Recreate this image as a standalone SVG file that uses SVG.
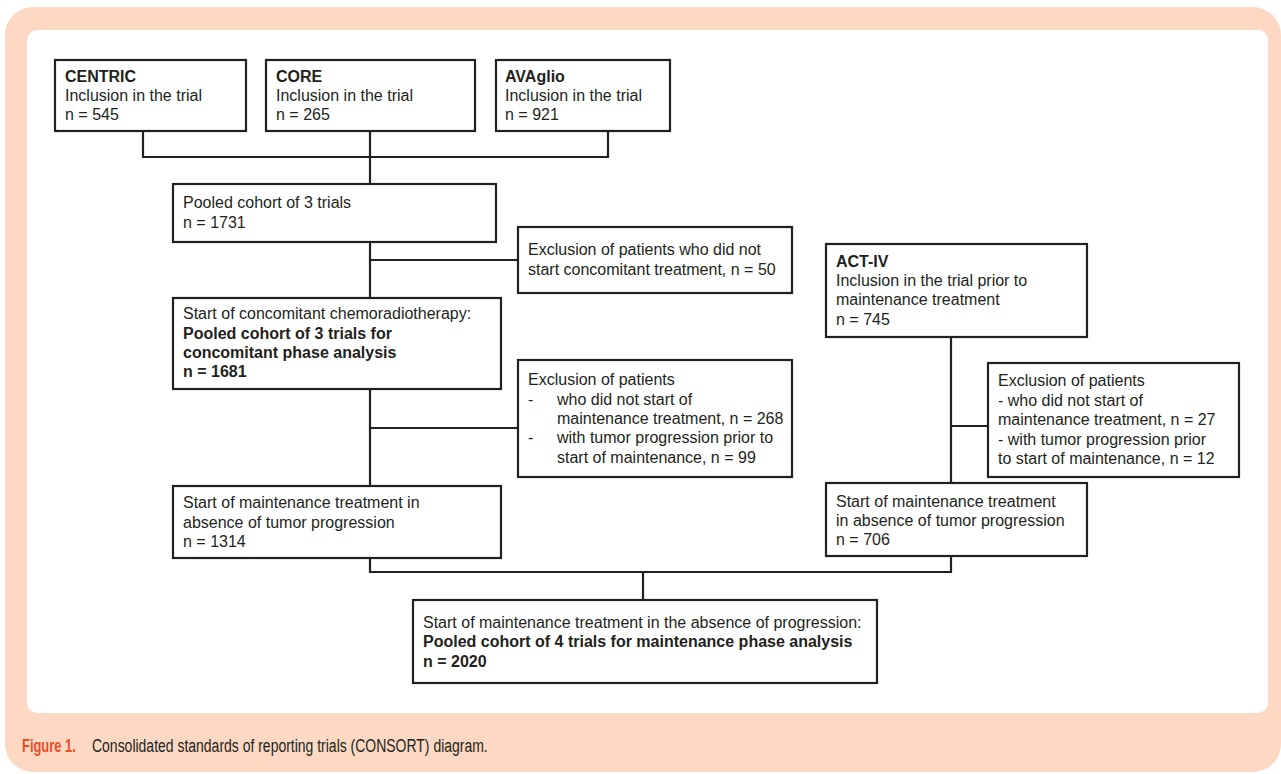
<svg xmlns="http://www.w3.org/2000/svg" width="1281" height="774" viewBox="0 0 1281 774">
<style>
.box{fill:#fff;stroke:#231f20;stroke-width:2.2}
.t{font-family:"Liberation Sans",Arial,sans-serif;font-size:16px;fill:#231f20}
.b{font-weight:bold}
.con{fill:none;stroke:#231f20;stroke-width:2.2}
.cap{font-family:"Liberation Sans",Arial,sans-serif;font-size:19px}
</style>
<rect x="5" y="7" width="1276" height="765" rx="28" fill="#fdd9c4"/>
<rect x="27" y="30" width="1241" height="683" rx="10" fill="#fff"/>
<g id="connectors" class="con">
<path d="M143,131 V157 H608 V131"/>
<path d="M370,131 V184"/>
<path d="M370,242 V298"/>
<path d="M370,260 H518"/>
<path d="M370,389 V486"/>
<path d="M370,428 H518"/>
<path d="M370,558 V572 H951 V556"/>
<path d="M951,337 V483"/>
<path d="M951,426 H988"/>
<path d="M643,572 V600"/>
</g>
<g id="centric"><rect class="box" x="55" y="60" width="191" height="71"/>
<text class="t" x="65"><tspan class="b" y="82">CENTRIC</tspan><tspan x="65" y="101">Inclusion in the trial</tspan><tspan x="65" y="120">n = 545</tspan></text></g>
<g id="core"><rect class="box" x="266" y="60" width="209" height="71"/>
<text class="t" x="276"><tspan class="b" y="82">CORE</tspan><tspan x="276" y="101">Inclusion in the trial</tspan><tspan x="276" y="120">n = 265</tspan></text></g>
<g id="avaglio"><rect class="box" x="496" y="60" width="174" height="71"/>
<text class="t" x="505"><tspan class="b" y="82">AVAglio</tspan><tspan x="505" y="101">Inclusion in the trial</tspan><tspan x="505" y="120">n = 921</tspan></text></g>
<g id="pooled3"><rect class="box" x="173" y="184" width="323" height="58"/>
<text class="t" x="183"><tspan y="208">Pooled cohort of 3 trials</tspan><tspan x="183" y="228">n = 1731</tspan></text></g>
<g id="excl1"><rect class="box" x="518" y="227" width="274" height="66"/>
<text class="t" x="528"><tspan y="255">Exclusion of patients who did not</tspan><tspan x="528" y="275">start concomitant treatment, n = 50</tspan></text></g>
<g id="concomitant"><rect class="box" x="173" y="298" width="328" height="91"/>
<text class="t" x="183"><tspan y="319">Start of concomitant chemoradiotherapy:</tspan><tspan class="b" x="183" y="339">Pooled cohort of 3 trials for</tspan><tspan class="b" x="183" y="358">concomitant phase analysis</tspan><tspan class="b" x="183" y="377">n = 1681</tspan></text></g>
<g id="excl2"><rect class="box" x="518" y="360" width="274" height="117"/>
<text class="t"><tspan x="528" y="385">Exclusion of patients</tspan><tspan x="528" y="405">-</tspan><tspan x="557" y="405">who did not start of</tspan><tspan x="557" y="424">maintenance treatment, n = 268</tspan><tspan x="528" y="443">-</tspan><tspan x="557" y="443">with tumor progression prior to</tspan><tspan x="557" y="463">start of maintenance, n = 99</tspan></text></g>
<g id="maint1"><rect class="box" x="173" y="486" width="328" height="72"/>
<text class="t" x="183"><tspan y="508">Start of maintenance treatment in</tspan><tspan x="183" y="528">absence of tumor progression</tspan><tspan x="183" y="547">n = 1314</tspan></text></g>
<g id="actiiv"><rect class="box" x="826" y="244" width="261" height="93"/>
<text class="t" x="836"><tspan class="b" y="267">ACT-IV</tspan><tspan x="836" y="286">Inclusion in the trial prior to</tspan><tspan x="836" y="305">maintenance treatment</tspan><tspan x="836" y="325">n = 745</tspan></text></g>
<g id="excl3"><rect class="box" x="988" y="363" width="251" height="114"/>
<text class="t" x="998"><tspan y="386">Exclusion of patients</tspan><tspan x="998" y="406">- who did not start of</tspan><tspan x="998" y="425">maintenance treatment, n = 27</tspan><tspan x="998" y="445">- with tumor progression prior</tspan><tspan x="998" y="464">to start of maintenance, n = 12</tspan></text></g>
<g id="maint2"><rect class="box" x="826" y="483" width="261" height="73"/>
<text class="t" x="836"><tspan y="507">Start of maintenance treatment</tspan><tspan x="836" y="526">in absence of tumor progression</tspan><tspan x="836" y="545">n = 706</tspan></text></g>
<g id="final"><rect class="box" x="413" y="600" width="464" height="83"/>
<text class="t" x="423"><tspan y="628">Start of maintenance treatment in the absence of progression:</tspan><tspan class="b" x="423" y="647">Pooled cohort of 4 trials for maintenance phase analysis</tspan><tspan class="b" x="423" y="667">n = 2020</tspan></text></g>
<g id="caption" transform="scale(0.68,1)">
<text class="cap" x="32.4" y="752" fill="#ec4d23" font-weight="bold" textLength="79" lengthAdjust="spacingAndGlyphs">Figure 1.</text>
<text class="cap" x="135.3" y="752" fill="#231f20" textLength="582" lengthAdjust="spacingAndGlyphs">Consolidated standards of reporting trials (CONSORT) diagram.</text>
</g>
</svg>
